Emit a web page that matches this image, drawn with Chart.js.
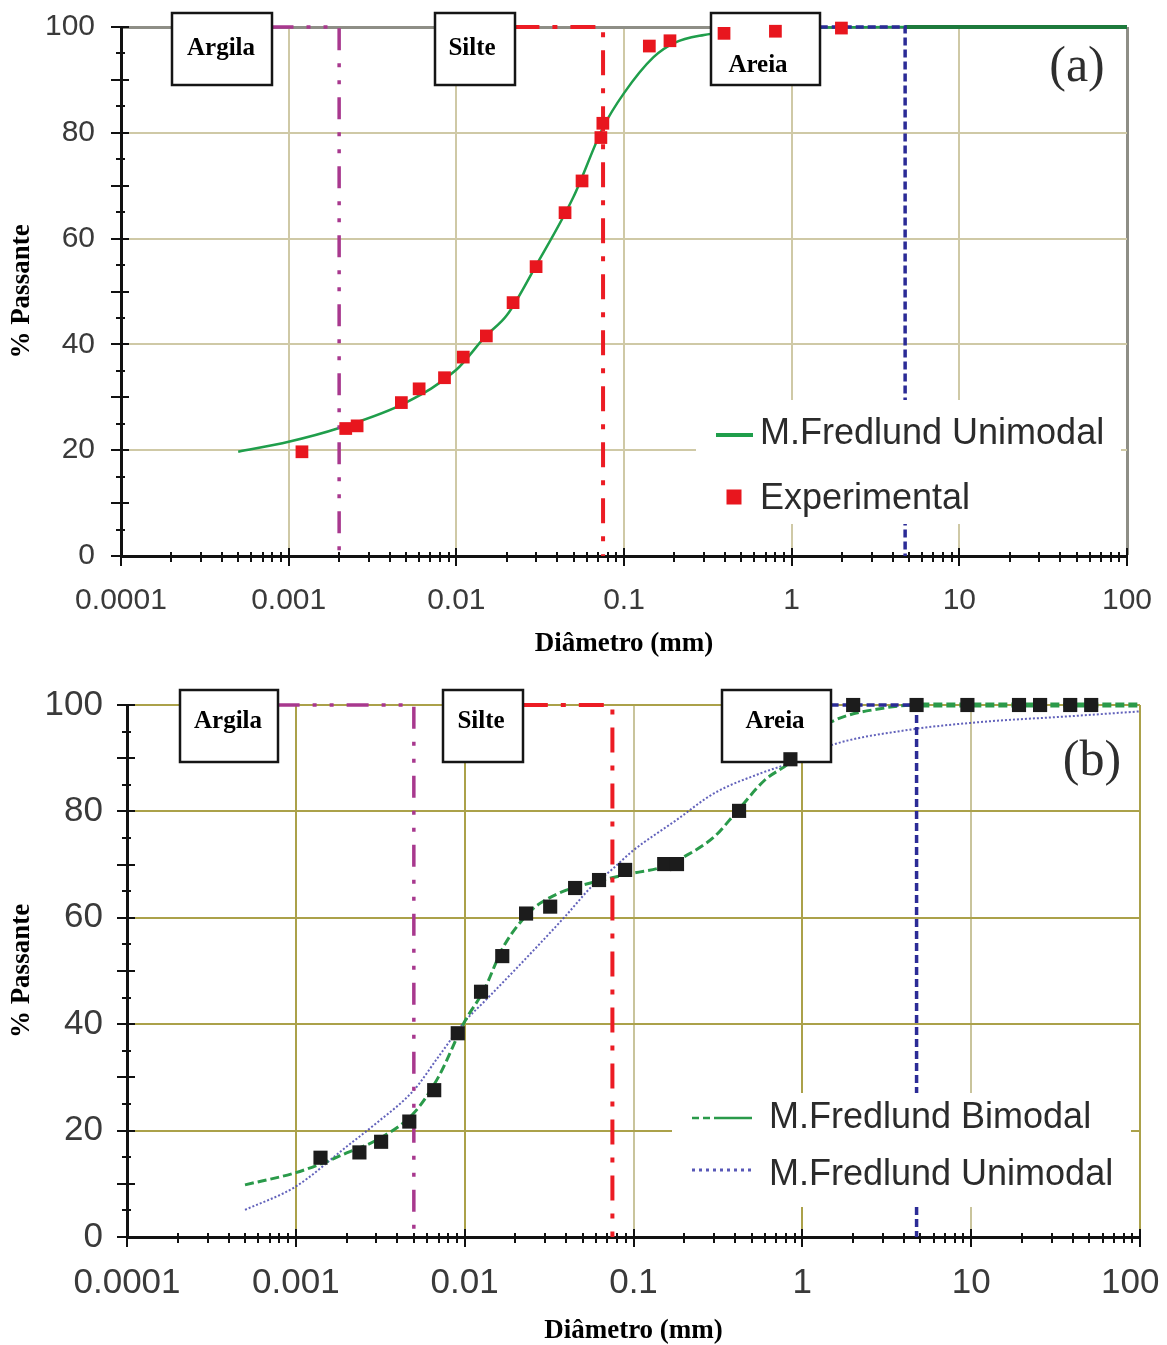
<!DOCTYPE html>
<html>
<head>
<meta charset="utf-8">
<script src="https://cdn.jsdelivr.net/npm/chart.js@4.4.0/dist/chart.umd.min.js"></script>
<style>
  body { margin: 0; background: #fff; overflow: hidden; }
  #wrap { position: relative; width: 1167px; height: 1345px; }
  #chartA { position: absolute; left: 0; top: 0; }
  #chartB { position: absolute; left: 0; top: 665px; }
</style>
</head>
<body>
<div id="wrap">
  <canvas id="chartA" width="1167" height="665"></canvas>
  <canvas id="chartB" width="1167" height="680"></canvas>
</div>
<script>
// ---- axes ----
const xTickVals = [0.0001, 0.001, 0.01, 0.1, 1, 10, 100];
const xTickLabels = ['0.0001', '0.001', '0.01', '0.1', '1', '10', '100'];
const yTickVals = [0, 20, 40, 60, 80, 100];

// ---- (a) ----
const diamA = [0.0012, 0.00219, 0.00256, 0.0047, 0.006, 0.0085, 0.011, 0.0151, 0.0218, 0.0299, 0.0445, 0.0562, 0.0728, 0.0748, 0.1416, 0.188, 0.395, 0.8, 1.98];
const passA = [19.7, 24.1, 24.6, 29.0, 31.6, 33.7, 37.6, 41.6, 47.9, 54.7, 64.9, 70.9, 79.1, 81.8, 96.4, 97.4, 98.8, 99.2, 99.8];
const fitDiamA = [0.0005, 0.001, 0.002, 0.005, 0.01, 0.015, 0.02, 0.03, 0.05, 0.075, 0.1, 0.15, 0.2, 0.3, 0.4, 1, 4.75, 100];
const fitPassA = [19.7, 21.6, 24.2, 29.0, 35.2, 41.6, 45.5, 55.0, 67.9, 81.0, 87.5, 94.3, 97.0, 98.5, 99.0, 99.8, 100, 100];
const boundsA = [0.002, 0.075, 4.75];
const boundsStartA = [0.00079, 0.0222, 1.47];

// ---- (b) ----
const diamB = [0.0014, 0.00238, 0.0032, 0.0047, 0.0066, 0.0091, 0.0125, 0.0167, 0.0231, 0.0321, 0.0451, 0.0625, 0.0892, 0.152, 0.181, 0.422, 0.85, 2.0, 4.75, 9.5, 19.2, 25.6, 38.6, 51.4];
const passB = [14.9, 15.9, 17.9, 21.7, 27.6, 38.3, 46.1, 52.8, 60.8, 62.1, 65.6, 67.1, 69.0, 70.1, 70.1, 80.1, 89.8, 100, 100, 100, 100, 100, 100, 100];
const bimDiamB = [0.0005, 0.001, 0.0015, 0.002, 0.003, 0.005, 0.007, 0.01, 0.013, 0.017, 0.025, 0.03, 0.04, 0.06, 0.1, 0.15, 0.2, 0.3, 0.4, 0.6, 0.85, 1.2, 1.5, 3, 5, 100];
const bimPassB = [9.8, 12.1, 14.1, 15.8, 18.2, 23.3, 30.1, 40.5, 46.4, 54.6, 61.5, 63.3, 65.2, 66.8, 68.4, 69.6, 71.5, 75.2, 79.6, 85.9, 89.3, 94.7, 96.9, 99.4, 100, 100];
const uniDiamB = [0.0005, 0.001, 0.002, 0.003, 0.005, 0.007, 0.01, 0.0133, 0.0236, 0.04, 0.057, 0.074, 0.1, 0.18, 0.3, 0.57, 0.85, 1.5, 4.2, 12.4, 35, 100];
const uniPassB = [5.1, 9.5, 17.0, 21.4, 27.6, 33.9, 40.5, 44.5, 52.7, 60.5, 66.0, 69.0, 72.7, 78.4, 83.4, 87.2, 89.1, 92.5, 95.3, 96.9, 97.8, 98.8];
const boundsB = [0.005, 0.075, 4.75];
const boundsStartB = [0.00078, 0.0221, 1.47];

const MAGENTA = '#a8388e', RED = '#ec1c24', BLUE = '#2b2b96';
const boundStyles = [
  { color: MAGENTA, dash: [22, 13, 4, 13, 4, 13], width: 3.5 },
  { color: RED, dash: [25, 13, 5, 13], width: 4 },
  { color: BLUE, dash: [8, 4], width: 3.5 }
];

const toPts = (xs, ys) => xs.map((x, i) => ({ x, y: ys[i] }));
const atTop = c => c.p0.parsed.y >= 100 && c.p1.parsed.y >= 100;

function boundaryDatasets(starts, bounds) {
  return bounds.map((b, i) => ({
    data: [{ x: starts[i], y: 100 }, { x: b, y: 100 }, { x: b, y: 0 }],
    showLine: true, pointRadius: 0, tension: 0, clip: false,
    borderColor: boundStyles[i].color,
    borderWidth: boundStyles[i].width,
    borderDash: boundStyles[i].dash
  }));
}

// boxes, legend, tag and the small axis tick marks
function decor(cfg) {
  return {
    id: 'decor',
    beforeDatasetDraw(chart, args) {
      if (args.index !== 0) return;
      const ctx = chart.ctx;
      ctx.save();
      cfg.boxes.forEach(b => {
        ctx.fillStyle = '#fff';
        ctx.fillRect(b.x, b.y, b.w, b.h);
        ctx.strokeStyle = '#151515';
        ctx.lineWidth = 2.5;
        ctx.strokeRect(b.x, b.y, b.w, b.h);
        ctx.fillStyle = '#000';
        ctx.font = 'bold 25px "Liberation Serif"';
        ctx.textAlign = 'center';
        ctx.textBaseline = 'middle';
        ctx.fillText(b.text, b.tx, b.ty);
      });
      ctx.restore();
    },
    afterDatasetsDraw(chart) {
      const ctx = chart.ctx;
      const L = cfg.legend;
      ctx.save();
      ctx.fillStyle = '#fff';
      ctx.fillRect(L.x, L.y, L.w, L.h);
      ctx.font = '36px "Liberation Sans"';
      ctx.textAlign = 'left';
      ctx.textBaseline = 'middle';
      L.items.forEach(it => {
        if (it.kind === 'rect') {
          ctx.fillStyle = it.color;
          ctx.fillRect(it.sx - 7.5, it.sy - 7.5, 15, 15);
        } else {
          ctx.strokeStyle = it.color;
          ctx.lineWidth = it.width;
          if (it.kind === 'dashsolid') {
            const mid = it.sx + (it.ex - it.sx) * 0.45;
            ctx.setLineDash([7, 4]);
            ctx.beginPath(); ctx.moveTo(it.sx, it.sy); ctx.lineTo(mid, it.sy); ctx.stroke();
            ctx.setLineDash([]);
            ctx.beginPath(); ctx.moveTo(mid, it.sy); ctx.lineTo(it.ex, it.sy); ctx.stroke();
          } else {
            ctx.setLineDash(it.dash || []);
            ctx.beginPath(); ctx.moveTo(it.sx, it.sy); ctx.lineTo(it.ex, it.sy); ctx.stroke();
            ctx.setLineDash([]);
          }
        }
        ctx.fillStyle = '#2b2b2b';
        ctx.fillText(it.text, it.tx, it.ty);
      });
      ctx.fillStyle = '#2e2e2e';
      ctx.font = '50px "Liberation Serif"';
      ctx.textAlign = 'center';
      ctx.fillText(cfg.tag.text, cfg.tag.x, cfg.tag.y);
      ctx.restore();
    },
    afterDraw(chart) {
      const { ctx, chartArea: a, scales: { x, y } } = chart;
      ctx.save();
      ctx.strokeStyle = '#111';
      ctx.lineWidth = 2;
      ctx.beginPath();
      for (let v = 0; v <= 100; v += 5) {
        const py = Math.round(y.getPixelForValue(v));
        const big = v % 10 === 0;
        ctx.moveTo(a.left - (big ? 10 : 5), py);
        ctx.lineTo(a.left + (big ? 8 : 4), py);
      }
      for (let e = -4; e <= 2; e++) {
        for (let m = 1; m <= 9; m++) {
          if (e === 2 && m > 1) break;
          const pxv = Math.round(x.getPixelForValue(m * Math.pow(10, e)));
          const big = m === 1;
          ctx.moveTo(pxv, a.bottom - (big ? 8 : 4));
          ctx.lineTo(pxv, a.bottom + (big ? 10 : 6));
        }
      }
      ctx.stroke();
      ctx.restore();
    }
  };
}

// label gaps go through an invisible tick length (and a negative padding)
// so the label overflow does not push the plot area inwards
function makeScales(o) {
  return {
    x: {
      type: 'logarithmic', min: 0.0001, max: 100,
      afterBuildTicks: s => { s.ticks = xTickVals.map(v => ({ value: v })); },
      afterFit: s => { s.height = o.xHeight; },
      grid: {
        drawTicks: true, tickLength: o.xGap + o.xNeg, tickColor: 'rgba(0,0,0,0)',
        color: c => o.xGridColor(c.tick.value),
        lineWidth: c => (c.tick.value === 100 ? o.edgeWidth : 2)
      },
      border: { display: true, color: '#111', width: 3 },
      ticks: {
        autoSkip: false, maxRotation: 0, padding: -o.xNeg, color: '#3a3a3a',
        font: { family: 'Liberation Sans', size: o.tickSize },
        callback: (v, i) => (i === xTickLabels.length - 1 ? xTickLabels[i] + o.lastPad : xTickLabels[i])
      },
      title: {
        display: true, text: 'Diâmetro (mm)', color: '#000',
        font: { family: 'Liberation Serif', size: 27, weight: 'bold', lineHeight: 1 },
        padding: { top: 0, bottom: o.xTitlePad }
      }
    },
    y: {
      type: 'linear', min: 0, max: 100,
      afterBuildTicks: s => { s.ticks = yTickVals.map(v => ({ value: v })); },
      afterFit: s => { s.width = o.yWidth; },
      grid: {
        drawTicks: true, tickLength: o.yGap, tickColor: 'rgba(0,0,0,0)',
        color: c => (c.tick.value === 100 ? o.edgeColor : o.gridColor),
        lineWidth: c => (c.tick.value === 100 ? o.edgeWidth : 2)
      },
      border: { display: true, color: '#111', width: 3 },
      ticks: {
        padding: 0, color: '#3a3a3a',
        font: { family: 'Liberation Sans', size: o.tickSize },
        callback: v => String(v)
      },
      title: {
        display: true, text: '% Passante', color: '#000',
        font: { family: 'Liberation Serif', size: 27, weight: 'bold', lineHeight: 1 },
        padding: { top: 9, bottom: 0 }
      }
    }
  };
}

const baseOptions = {
  responsive: false,
  animation: false,
  events: [],
  plugins: { legend: { display: false }, tooltip: { enabled: false } }
};

// ---------- chart (a) ----------
// dataset 0 is drawn last (on top), the fitted curve first
new Chart(document.getElementById('chartA'), {
  type: 'scatter',
  data: {
    datasets: [
      {
        label: 'Experimental', data: toPts(diamA, passA),
        pointStyle: 'rect', pointRadius: 9, backgroundColor: '#e8161e', borderWidth: 0, clip: false
      },
      ...boundaryDatasets(boundsStartA, boundsA),
      {
        label: 'M.Fredlund Unimodal', data: toPts(fitDiamA, fitPassA),
        showLine: true, pointRadius: 0, borderColor: '#1f9e4b', borderWidth: 2.5,
        cubicInterpolationMode: 'monotone', clip: false,
        segment: {
          borderColor: c => (atTop(c) ? '#1d7a3c' : undefined),
          borderWidth: c => (atTop(c) ? 4 : undefined)
        }
      }
    ]
  },
  options: {
    ...baseOptions,
    layout: { padding: { left: 0, top: 27, right: 40, bottom: 0 } },
    scales: makeScales({
      xHeight: 109, yWidth: 121, xGap: 27, xNeg: 3, yGap: 26, tickSize: 30, xTitlePad: 7, lastPad: '',
      gridColor: '#cfc9a6', edgeColor: '#8e8e86', edgeWidth: 3,
      xGridColor: v => (v === 100 ? '#8e8e86' : '#cfc9a6')
    })
  },
  plugins: [decor({
    boxes: [
      { x: 172, y: 13, w: 100, h: 72, text: 'Argila', tx: 221, ty: 49 },
      { x: 435, y: 13, w: 80, h: 72, text: 'Silte', tx: 472, ty: 49 },
      { x: 711, y: 13, w: 109, h: 72, text: 'Areia', tx: 758, ty: 66 }
    ],
    legend: {
      x: 696, y: 400, w: 425, h: 124,
      items: [
        { kind: 'line', color: '#1f9e4b', width: 4, sx: 716, ex: 753, sy: 435, text: 'M.Fredlund Unimodal', tx: 760, ty: 434 },
        { kind: 'rect', color: '#e8161e', sx: 734, sy: 497, text: 'Experimental', tx: 760, ty: 499 }
      ]
    },
    tag: { text: '(a)', x: 1077, y: 68 }
  })]
});

// ---------- chart (b) ----------
new Chart(document.getElementById('chartB'), {
  type: 'scatter',
  data: {
    datasets: [
      {
        label: 'Experimental', data: toPts(diamB, passB),
        pointStyle: 'rect', pointRadius: 10, backgroundColor: '#1c1c1c', borderWidth: 0, clip: false
      },
      ...boundaryDatasets(boundsStartB, boundsB),
      {
        label: 'M.Fredlund Bimodal', data: toPts(bimDiamB, bimPassB),
        showLine: true, pointRadius: 0, borderColor: '#2a9a4a', borderWidth: 3, borderDash: [9, 4],
        cubicInterpolationMode: 'monotone', clip: false,
        segment: { borderWidth: c => (atTop(c) ? 5 : undefined) }
      },
      {
        label: 'M.Fredlund Unimodal', data: toPts(uniDiamB, uniPassB),
        showLine: true, pointRadius: 0, borderColor: 'rgba(70,70,175,0.85)', borderWidth: 2, borderDash: [2, 2],
        cubicInterpolationMode: 'monotone', clip: false
      }
    ]
  },
  options: {
    ...baseOptions,
    layout: { padding: { left: 0, top: 40, right: 27, bottom: 0 } },
    scales: makeScales({
      xHeight: 108, yWidth: 127, xGap: 25, xNeg: 14, yGap: 24, tickSize: 35, xTitlePad: 0, lastPad: '  ',
      gridColor: '#aba14a', edgeColor: '#aba14a', edgeWidth: 2,
      xGridColor: v => (v === 0.1 || v === 10 ? '#c9c49c' : '#aba14a')
    })
  },
  plugins: [decor({
    boxes: [
      { x: 180, y: 25, w: 98, h: 72, text: 'Argila', tx: 228, ty: 57 },
      { x: 443, y: 25, w: 80, h: 72, text: 'Silte', tx: 481, ty: 57 },
      { x: 722, y: 25, w: 109, h: 72, text: 'Areia', tx: 775, ty: 57 }
    ],
    legend: {
      x: 672, y: 428, w: 459, h: 114,
      items: [
        { kind: 'dashsolid', color: '#2a9a4a', width: 2.5, sx: 692, ex: 752, sy: 453, text: 'M.Fredlund Bimodal', tx: 769, ty: 453 },
        { kind: 'line', color: 'rgba(70,70,175,0.9)', width: 3, dash: [3, 4], sx: 692, ex: 752, sy: 505, text: 'M.Fredlund Unimodal', tx: 769, ty: 510 }
      ]
    },
    tag: { text: '(b)', x: 1092, y: 97 }
  })]
});
</script>
</body>
</html>
